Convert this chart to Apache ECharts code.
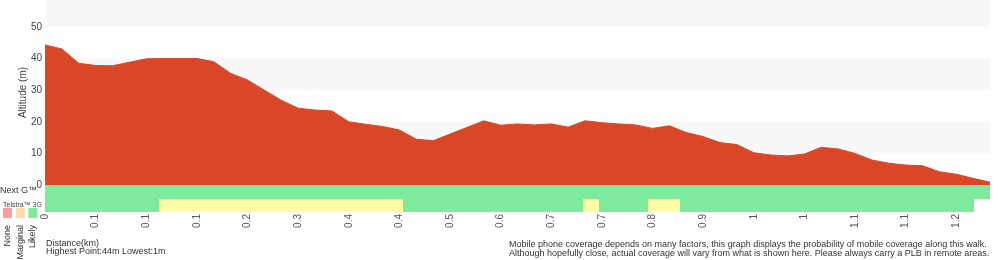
<!DOCTYPE html>
<html>
<head>
<meta charset="utf-8">
<style>
  html, body { margin: 0; padding: 0; background: #fff; }
  #chart { width: 1000px; height: 260px; }
</style>
<script src="https://cdn.jsdelivr.net/npm/echarts@6/dist/echarts.min.js"></script>
</head>
<body>
<div id="chart"></div>
<script>
// altitude profile (m), one sample per track point
var altitude = [44.3, 43.0, 38.5, 37.8, 37.7, 38.8, 39.9, 40.0, 40.0, 40.0,
  39.0, 35.3, 33.2, 30.0, 26.8, 24.3, 23.7, 23.4, 20.0, 19.2,
  18.5, 17.4, 14.5, 14.0, 16.1, 18.2, 20.3, 18.9, 19.3, 19.0,
  19.3, 18.3, 20.3, 19.7, 19.3, 19.0, 17.9, 18.7, 16.6, 15.3,
  13.4, 12.8, 10.2, 9.5, 9.2, 9.8, 11.9, 11.4, 10.0, 7.9,
  6.9, 6.3, 6.1, 4.2, 3.4, 2.1, 0.9];

// distance along the walk (km) at each track point
var distances = [0, 0.02, 0.04, 0.06, 0.08, 0.10, 0.118, 0.125, 0.132, 0.14,
  0.16, 0.18, 0.20, 0.225, 0.25, 0.275, 0.30, 0.325, 0.36, 0.38,
  0.40, 0.42, 0.445, 0.47, 0.495, 0.52, 0.545, 0.57, 0.595, 0.62,
  0.66, 0.68, 0.70, 0.72, 0.74, 0.76, 0.78, 0.81, 0.84, 0.87,
  0.90, 0.93, 0.96, 0.985, 1.01, 1.03, 1.05, 1.07, 1.09, 1.11,
  1.13, 1.14, 1.16, 1.18, 1.20, 1.22, 1.24];

// coverage per segment: 0 none, 1 marginal, 2 likely, null = no data
var nextG = [2,2,2,2,2,2,2,2,2,2, 2,2,2,2,2,2,2,2,2,2,
  2,2,2,2,2,2,2,2,2,2, 2,2,2,2,2,2,2,2,2,2,
  2,2,2,2,2,2,2,2,2,2, 2,2,2,2,2,2,2,2];
var telstra3G = [2,2,2,2,2,2,2,1,1,1, 1,1,1,1,1,1,1,1,1,1,
  1,1,2,2,2,2,2,2,2,2, 2,2,2,1,2,2,2,1,1,2,
  2,2,2,2,2,2,2,2,2,2, 2,2,2,2,2,2,2,null];

var networks = ['Next G', 'Telstra 3G'];
var levelNames = ['None', 'Marginal', 'Likely'];
var levelColors = ['#ff9c9c', '#fffca8', '#7deb9b'];
var legendColors = ['#ff9c9c', '#ffdea2', '#7deb9b'];
var yTicks = { min: 0, max: 58.5, interval: 10 };

var FONT = '"Liberation Sans", Arial, Helvetica, sans-serif';

var distLabels = distances.map(function (d) { return String(+d.toFixed(1)); });
var segIdx = nextG.map(function (v, i) { return String(i); });

var coverData = [];
[nextG, telstra3G].forEach(function (row, r) {
  row.forEach(function (lvl, i) {
    if (lvl !== null) coverData.push([i, r, lvl]);
  });
});

var hi = Math.round(Math.max.apply(null, altitude));
var lo = Math.round(Math.min.apply(null, altitude));

var chart = echarts.init(document.getElementById('chart'), null, { renderer: 'canvas' });

var graphics = [
  { type: 'text', left: 0, top: 186, style: { text: 'Next G™', font: '9px ' + FONT, fill: '#333' } },
  { type: 'text', left: 3, top: 201.5, style: { text: 'Telstra™ 3G', font: '7px ' + FONT, fill: '#444' } },
  { type: 'text', left: 46, top: 239, style: { text: 'Distance(km)', font: '9px ' + FONT, fill: '#333' } },
  { type: 'text', left: 46, top: 247.5, style: { text: 'Highest Point:' + hi + 'm Lowest:' + lo + 'm', font: '9px ' + FONT, fill: '#333' } },
  { type: 'text', left: 509, top: 240, style: { text: 'Mobile phone coverage depends on many factors, this graph displays the probability of mobile coverage along this walk.', font: '9px ' + FONT, fill: '#333' } },
  { type: 'text', left: 509, top: 249.5, style: { text: 'Although hopefully close, actual coverage will vary from what is shown here. Please always carry a PLB in remote areas.', font: '9px ' + FONT, fill: '#333' } }
];
levelNames.forEach(function (name, i) {
  var x = 3 + i * 12.7;
  graphics.push({ type: 'rect', shape: { x: x, y: 208, width: 9, height: 10 }, style: { fill: legendColors[i] } });
  graphics.push({
    type: 'text', x: x + 4.5, y: 225, rotation: Math.PI / 2,
    style: { text: name, font: '9px ' + FONT, fill: '#333', align: 'right', verticalAlign: 'middle' }
  });
});

chart.setOption({
  animation: false,
  textStyle: { fontFamily: FONT },
  grid: [
    { left: 45, right: 10, top: 0, height: 185 },
    { left: 45, right: 10, top: 185, height: 27 }
  ],
  xAxis: [
    {
      type: 'category', gridIndex: 0, data: distLabels, boundaryGap: false,
      axisLine: { show: false }, axisTick: { show: false },
      axisLabel: { interval: 2, rotate: 90, margin: 29, fontSize: 10, color: '#555' }
    },
    {
      type: 'category', gridIndex: 1, data: segIdx,
      axisLine: { show: false }, axisTick: { show: false }, axisLabel: { show: false },
      splitLine: { show: false }
    }
  ],
  yAxis: [
    {
      type: 'value', gridIndex: 0, min: yTicks.min, max: yTicks.max, interval: yTicks.interval,
      name: 'Altitude (m)', nameLocation: 'middle', nameGap: 17, nameMoveOverlap: false,
      nameTextStyle: { fontSize: 10, color: '#444' },
      axisLine: { show: false }, axisTick: { show: false },
      axisLabel: { margin: 3, fontSize: 10, color: '#444', showMaxLabel: false },
      splitLine: { show: false },
      splitArea: { show: true, areaStyle: { color: ['#ffffff', '#f8f8f8'] } }
    },
    {
      type: 'category', gridIndex: 1, data: networks, inverse: true,
      axisLine: { show: false }, axisTick: { show: false }, axisLabel: { show: false },
      splitLine: { show: false }
    }
  ],
  series: [
    {
      type: 'line', xAxisIndex: 0, yAxisIndex: 0, data: altitude,
      showSymbol: false, symbol: 'none',
      lineStyle: { color: '#da4727', width: 1 },
      areaStyle: { color: '#da4727', opacity: 1 }
    },
    {
      type: 'custom', xAxisIndex: 1, yAxisIndex: 1, data: coverData,
      renderItem: function (params, api) {
        var c = api.coord([api.value(0), api.value(1)]);
        var s = api.size([1, 1]);
        var x0 = Math.round(c[0] - s[0] / 2), x1 = Math.round(c[0] + s[0] / 2);
        var y0 = Math.round(c[1] - s[1] / 2), y1 = Math.round(c[1] + s[1] / 2);
        return {
          type: 'rect',
          shape: { x: x0, y: y0, width: x1 - x0, height: y1 - y0 },
          style: { fill: levelColors[api.value(2)] }
        };
      }
    }
  ],
  graphic: graphics
});
</script>
</body>
</html>
